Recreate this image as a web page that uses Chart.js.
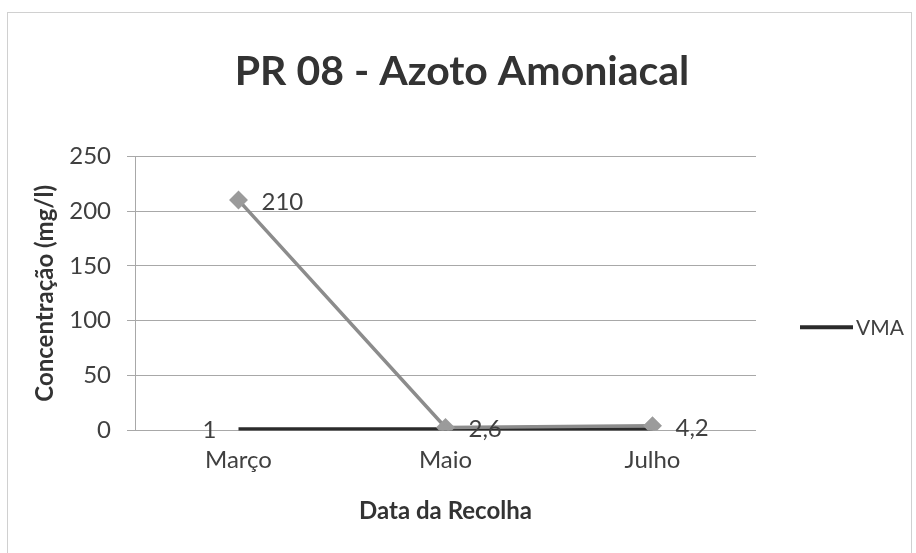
<!DOCTYPE html>
<html>
<head>
<meta charset="utf-8">
<script src="https://cdn.jsdelivr.net/npm/chart.js@4"></script>
<style>
  html, body { margin: 0; padding: 0; background: #fff; }
</style>
</head>
<body>
<canvas id="chartPR08" width="916" height="553"></canvas>
<script>
const categories = ['Março', 'Maio', 'Julho'];
const azotoValues = [210, 2.6, 4.2];
const vmaValues = [1, 1, 1];
const yTicks = [0, 50, 100, 150, 200, 250];

const fmt = v => String(v).replace('.', ',');

// white page + thin frame like the scanned sheet
const frame = {
  id: 'frame',
  beforeDraw: chart => {
    const ctx = chart.ctx;
    ctx.save();
    ctx.fillStyle = '#fff';
    ctx.fillRect(0, 0, chart.width, chart.height);
    ctx.strokeStyle = '#d0d0d0';
    ctx.lineWidth = 1;
    ctx.strokeRect(7.5, 12.5, chart.width - 12, chart.height + 20);
    ctx.restore();
  }
};

// data labels next to the points
const valueLabels = {
  id: 'valueLabels',
  afterDatasetsDraw: chart => {
    const ctx = chart.ctx;
    ctx.save();
    ctx.font = '24px Lato';
    ctx.fillStyle = '#404040';
    ctx.textBaseline = 'middle';
    chart.data.datasets.forEach((ds, i) => {
      const meta = chart.getDatasetMeta(i);
      meta.data.forEach((pt, j) => {
        if (ds.labelOnly !== undefined && ds.labelOnly !== j) return;
        if (ds.labelSide === 'left') {
          ctx.textAlign = 'right';
          ctx.fillText(fmt(ds.data[j]), pt.x - 22, pt.y + 1);
        } else {
          ctx.textAlign = 'left';
          ctx.fillText(fmt(ds.data[j]), pt.x + 23, pt.y + 2);
        }
      });
    });
    ctx.restore();
  }
};

// only the VMA entry is shown in the original legend
const vmaLegend = {
  id: 'vmaLegend',
  afterDraw: chart => {
    const ctx = chart.ctx;
    const ds = chart.data.datasets[1];
    const { right, top, bottom } = chart.chartArea;
    const y = (top + bottom) / 2 + 34;
    ctx.save();
    ctx.strokeStyle = ds.borderColor;
    ctx.lineWidth = ds.borderWidth;
    ctx.beginPath();
    ctx.moveTo(right + 44, y);
    ctx.lineTo(right + 97, y);
    ctx.stroke();
    ctx.font = '21px Lato';
    ctx.fillStyle = '#404040';
    ctx.textBaseline = 'middle';
    ctx.textAlign = 'left';
    ctx.fillText(ds.label, right + 100, y + 1);
    ctx.restore();
  }
};

const chartPR08 = new Chart(document.getElementById('chartPR08'), {
  type: 'line',
  plugins: [frame, valueLabels, vmaLegend],
  data: {
    labels: categories,
    datasets: [{
      label: 'PR 08',
      data: azotoValues,
      borderColor: '#8c8c8c',
      borderWidth: 3.5,
      pointStyle: 'rectRot',
      pointRadius: 7,
      pointBackgroundColor: '#9b9b9b',
      pointBorderColor: '#9b9b9b',
      labelSide: 'right'
    }, {
      label: 'VMA',
      data: vmaValues,
      borderColor: '#2b2b2b',
      backgroundColor: '#2b2b2b',
      borderWidth: 4,
      pointRadius: 0,
      labelSide: 'left',
      labelOnly: 0
    }]
  },
  options: {
    responsive: false,
    animation: false,
    events: [],
    layout: { padding: { left: 25, right: 17, top: 47, bottom: 27 } },
    plugins: {
      title: {
        display: true,
        text: 'PR 08 - Azoto Amoniacal',
        color: '#333',
        font: { family: 'Lato', size: 41, weight: 'bold' },
        padding: { top: 0, bottom: 60 }
      },
      legend: { display: false },
      tooltip: { enabled: false }
    },
    scales: {
      x: {
        offset: true,
        grid: { display: false, drawTicks: true, tickLength: 8 },
        border: { display: false },
        ticks: { color: '#404040', font: { family: 'Lato', size: 24 }, padding: 7 },
        title: {
          display: true,
          text: 'Data da Recolha',
          color: '#333',
          font: { family: 'Lato', size: 24, weight: 'bold' },
          padding: { top: 16, bottom: 0 }
        }
      },
      y: {
        min: 0,
        max: 250,
        afterBuildTicks: s => { s.ticks = yTicks.map(v => ({ value: v })); },
        afterFit: s => { s.width = 110; },
        grid: { color: '#a8a8a8', lineWidth: 1, tickLength: 8 },
        border: { display: true, color: '#a8a8a8' },
        ticks: { color: '#404040', font: { family: 'Lato', size: 24 }, padding: 16 },
        title: {
          display: true,
          text: 'Concentração (mg/l)',
          color: '#333',
          font: { family: 'Lato', size: 24, weight: 'bold' },
          padding: { top: 6, bottom: 0 }
        }
      },
      // empty right-hand axis: keeps room for the legend
      legendRoom: {
        type: 'linear',
        position: 'right',
        grid: { display: false, drawTicks: false },
        border: { display: false },
        ticks: { display: false },
        afterFit: s => { s.width = 143; }
      }
    }
  }
});
</script>
</body>
</html>
